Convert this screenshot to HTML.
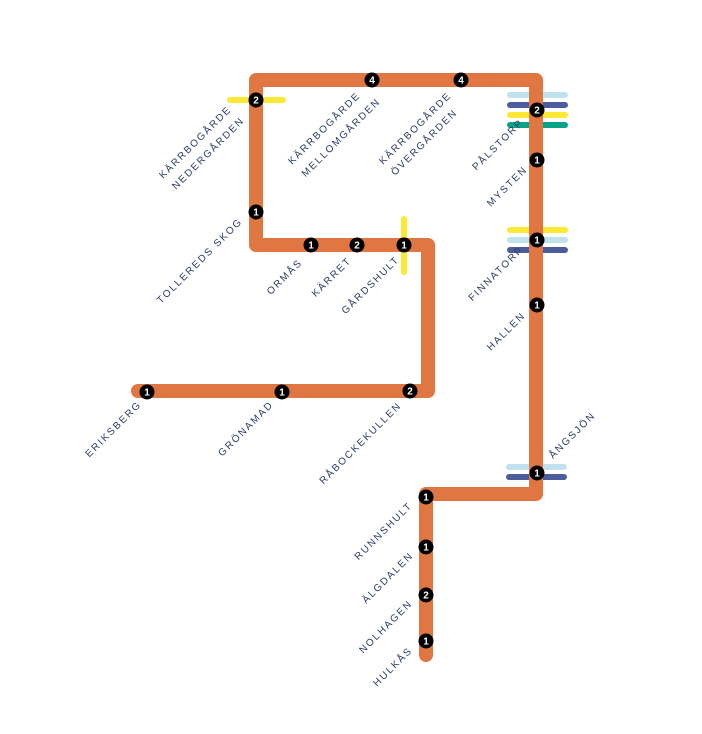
<!DOCTYPE html>
<html><head><meta charset="utf-8"><style>
html,body{margin:0;padding:0;background:#fff}
svg{display:block}
.l{font-family:"Liberation Sans",sans-serif;font-size:10px;letter-spacing:1.8px;fill:#2b3a66;text-anchor:end}
.n{font-family:"Liberation Sans",sans-serif;font-size:10px;font-weight:bold;fill:#fff;text-anchor:middle}
</style></head><body>
<svg width="702" height="734" viewBox="0 0 702 734" xmlns="http://www.w3.org/2000/svg">
<g stroke-linecap="round" stroke-width="6" fill="none">
<line x1="230" y1="100" x2="283" y2="100" stroke="#fce933"/>
<line x1="404" y1="219" x2="404" y2="272" stroke="#fce933"/>
<line x1="510" y1="95" x2="565" y2="95" stroke="#bfe2ee"/>
<line x1="510" y1="105" x2="565" y2="105" stroke="#4b5d9d"/>
<line x1="510" y1="115" x2="565" y2="115" stroke="#fce933"/>
<line x1="510" y1="125" x2="565" y2="125" stroke="#0aa388"/>
<line x1="510" y1="230" x2="565" y2="230" stroke="#fce933"/>
<line x1="510" y1="240" x2="565" y2="240" stroke="#bfe2ee"/>
<line x1="510" y1="250" x2="565" y2="250" stroke="#4b5d9d"/>
<line x1="509" y1="467" x2="564" y2="467" stroke="#bfe2ee"/>
<line x1="509" y1="477" x2="564" y2="477" stroke="#4b5d9d"/>
</g>
<path d="M138 391 H428 V245 H256 V80 H536 V494 H426 V655" fill="none" stroke="#e07641" stroke-width="14" stroke-linejoin="round" stroke-linecap="round"/>
<g>
<circle cx="256" cy="100" r="7.5"/><text class="n" x="256" y="103.5">2</text>
<circle cx="372" cy="80" r="7.5"/><text class="n" x="372" y="83.5">4</text>
<circle cx="461" cy="80" r="7.5"/><text class="n" x="461" y="83.5">4</text>
<circle cx="537" cy="110" r="7.5"/><text class="n" x="537" y="113.5">2</text>
<circle cx="537" cy="160" r="7.5"/><text class="n" x="537" y="163.5">1</text>
<circle cx="256" cy="212" r="7.5"/><text class="n" x="256" y="215.5">1</text>
<circle cx="311" cy="245" r="7.5"/><text class="n" x="311" y="248.5">1</text>
<circle cx="357" cy="245" r="7.5"/><text class="n" x="357" y="248.5">2</text>
<circle cx="404" cy="245" r="7.5"/><text class="n" x="404" y="248.5">1</text>
<circle cx="537" cy="240" r="7.5"/><text class="n" x="537" y="243.5">1</text>
<circle cx="537" cy="305" r="7.5"/><text class="n" x="537" y="308.5">1</text>
<circle cx="147" cy="392" r="7.5"/><text class="n" x="147" y="395.5">1</text>
<circle cx="282" cy="392" r="7.5"/><text class="n" x="282" y="395.5">1</text>
<circle cx="410" cy="391" r="7.5"/><text class="n" x="410" y="394.5">2</text>
<circle cx="537" cy="473" r="7.5"/><text class="n" x="537" y="476.5">1</text>
<circle cx="426" cy="497" r="7.5"/><text class="n" x="426" y="500.5">1</text>
<circle cx="426" cy="547" r="7.5"/><text class="n" x="426" y="550.5">1</text>
<circle cx="426" cy="595" r="7.5"/><text class="n" x="426" y="598.5">2</text>
<circle cx="426" cy="641" r="7.5"/><text class="n" x="426" y="644.5">1</text>
</g>
<g>
<text class="l" transform="translate(232,110) rotate(-45)">KÄRRBOGÅRDE</text>
<text class="l" transform="translate(245,121) rotate(-45)">NEDERGÅRDEN</text>
<text class="l" transform="translate(361,96) rotate(-45)">KÄRRBOGÅRDE</text>
<text class="l" transform="translate(381,102) rotate(-45)">MELLOMGÅRDEN</text>
<text class="l" transform="translate(452,96) rotate(-45)">KÄRRBOGÅRDE</text>
<text class="l" transform="translate(458,113) rotate(-45)">ÖVERGÅRDEN</text>
<text class="l" transform="translate(524,123) rotate(-45)">PÅLSTORP</text>
<text class="l" transform="translate(528,170) rotate(-45)">MYSTEN</text>
<text class="l" transform="translate(243,222) rotate(-45)">TOLLEREDS SKOG</text>
<text class="l" transform="translate(303,263) rotate(-45)">ORMÅS</text>
<text class="l" transform="translate(352,261) rotate(-45)">KÄRRET</text>
<text class="l" transform="translate(400,260) rotate(-45)">GÅRDSHULT</text>
<text class="l" transform="translate(524,250) rotate(-45)">FINNATORP</text>
<text class="l" transform="translate(526,316) rotate(-45)">HALLEN</text>
<text class="l" transform="translate(142,405) rotate(-45)">ERIKSBERG</text>
<text class="l" transform="translate(274,405) rotate(-45)">GRÖNAMAD</text>
<text class="l" transform="translate(402,406) rotate(-45)">RÅBOCKEKULLEN</text>
<text class="l" style="text-anchor:start" transform="translate(553,459) rotate(-45)">ÅNGSJÖN</text>
<text class="l" transform="translate(413,506) rotate(-45)">RUNNSHULT</text>
<text class="l" transform="translate(414,556) rotate(-45)">ÄLGDALEN</text>
<text class="l" transform="translate(413,604) rotate(-45)">NOLHAGEN</text>
<text class="l" transform="translate(413,651) rotate(-45)">HULKÅS</text>
</g>
</svg>
</body></html>
